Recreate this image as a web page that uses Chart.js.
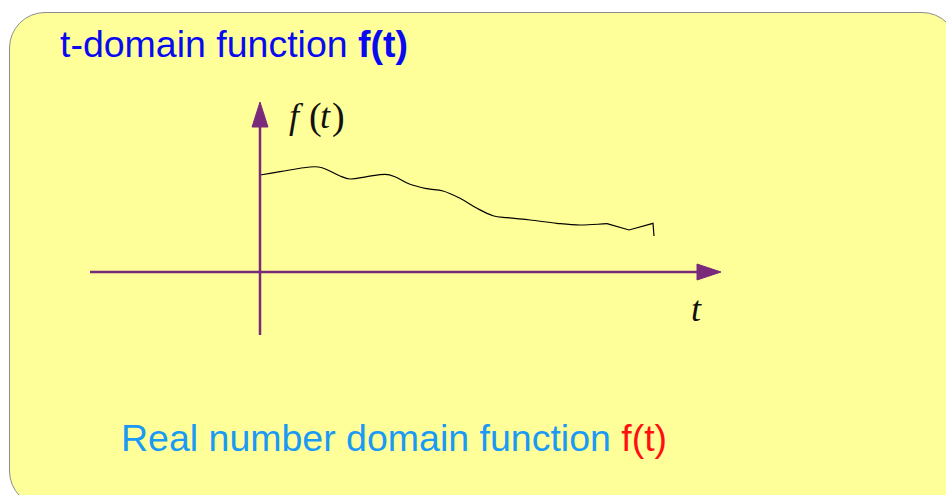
<!DOCTYPE html>
<html>
<head>
<meta charset="utf-8">
<title>t-domain function f(t)</title>
<script src="https://cdn.jsdelivr.net/npm/chart.js@4/dist/chart.umd.min.js"></script>
<style>
    html, body { margin: 0; padding: 0; background: #ffffff; }
    .slide { position: relative; width: 946px; height: 495px; overflow: hidden; }
    .box {
        position: absolute; left: 9px; top: 12px; width: 949px; height: 495px;
        background: #ffff99; border: 1px solid #8c8c8c; border-radius: 36px;
        box-sizing: border-box;
    }
    .txt { position: absolute; white-space: nowrap; line-height: 1; }
    .sans { font-family: "Liberation Sans", Arial, sans-serif; font-size: 37.5px; }
    .math { font-family: "Liberation Serif", "Times New Roman", serif; color: #111111; }
    canvas { position: absolute; left: 0; top: 0; }
</style>
</head>
<body>
<div class="slide">
    <div class="box"></div>
    <div class="txt sans" style="left:60px; top:26px; color:#0a0af0;">t-domain function <b>f(t)</b></div>
    <div class="txt sans" style="left:121px; top:420px; color:#1a9af5;">Real number domain function <span style="color:#ff1010;">f(t)</span></div>

    <span class="txt math" style="left:289px; top:98px; font-size:36px; font-style:italic;">f</span>
    <span class="txt math" style="left:309px; top:97px; font-size:38px;">(</span>
    <span class="txt math" style="left:320px; top:98px; font-size:36px; font-style:italic;">t</span>
    <span class="txt math" style="left:332px; top:97px; font-size:38px;">)</span>
    <span class="txt math" style="left:691px; top:291px; font-size:36px; font-style:italic;">t</span>

    <canvas id="chartFt" width="946" height="495"></canvas>
</div>

<script>
// ========== DONNÉES ==========
// t values and f(t) values of the sketched curve (origin = axis crossing)
const curveT = [0, 20, 50, 62, 80, 90, 107, 125, 135, 150, 167, 183, 200, 217, 233, 247, 270, 297, 320, 347];
const curveF = [97, 100.3, 105, 104.3, 96, 93, 95.3, 97.7, 95.3, 87.7, 83.3, 81, 73.7, 63.7, 56.3, 54.3, 52, 48.7, 47, 48.3];
// jagged tail at the right end
const tailT = [347, 369, 393, 394];
const tailF = [48.3, 42, 48.7, 36];

// axes: t axis and f axis, with arrow heads
const tAxisT = [-170, 437];
const tAxisF = [0, 0];
const tArrowT = [437, 461, 437, 437];
const tArrowF = [8, 0, -8, 8];
const fAxisT = [0, 0];
const fAxisF = [-63, 145];
const fArrowT = [-8, 0, 8, -8];
const fArrowF = [145, 170, 145, 145];

(function() {
    'use strict';

    const AXIS_COLOR = '#7a2a7a';

    function toPoints(xs, ys) {
        return xs.map((x, i) => ({ x: x, y: ys[i] }));
    }

    function lineSet(xs, ys, color, width, tension) {
        return {
            data: toPoints(xs, ys),
            borderColor: color,
            borderWidth: width,
            pointRadius: 0,
            tension: tension,
            fill: false
        };
    }

    function arrowSet(xs, ys) {
        return {
            data: toPoints(xs, ys),
            borderColor: AXIS_COLOR,
            backgroundColor: AXIS_COLOR,
            borderWidth: 1,
            pointRadius: 0,
            tension: 0,
            fill: 'shape'
        };
    }

    document.addEventListener('DOMContentLoaded', () => {
        const ctx = document.getElementById('chartFt');

        new Chart(ctx, {
            type: 'scatter',
            data: {
                datasets: [
                    lineSet(tAxisT, tAxisF, AXIS_COLOR, 2.5, 0),
                    lineSet(fAxisT, fAxisF, AXIS_COLOR, 2.5, 0),
                    arrowSet(tArrowT, tArrowF),
                    arrowSet(fArrowT, fArrowF),
                    lineSet(curveT, curveF, '#000000', 1.2, 0.35),
                    lineSet(tailT, tailF, '#000000', 1.2, 0)
                ]
            },
            options: {
                responsive: false,
                devicePixelRatio: 1,
                animation: false,
                showLine: true,
                layout: { padding: 0 },
                plugins: { legend: { display: false }, tooltip: { enabled: false } },
                scales: {
                    x: { type: 'linear', display: false, min: -260, max: 686 },
                    y: { type: 'linear', display: false, min: -223, max: 272 }
                }
            }
        });
    });

})();
</script>
</body>
</html>
